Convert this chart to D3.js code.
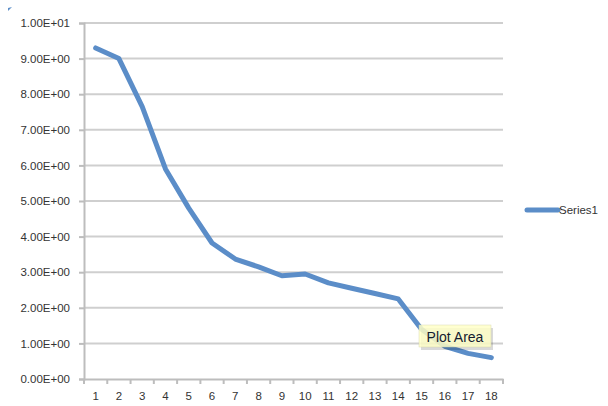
<!DOCTYPE html>
<html>
<head>
<meta charset="utf-8">
<script src="https://cdn.jsdelivr.net/npm/d3@7"></script>
<style>
  html, body { margin: 0; padding: 0; background: #fff; }
  svg { display: block; font-family: "Liberation Sans", Arial, sans-serif; }
</style>
</head>
<body>
<svg id="chart" width="608" height="406"></svg>
<script>
// Categories along the x axis
const categories = ["1","2","3","4","5","6","7","8","9","10","11","12","13","14","15","16","17","18"];
// Series1 values
const series1 = [9.3, 9.0, 7.65, 5.9, 4.8, 3.82, 3.37, 3.15, 2.9, 2.95, 2.7, 2.55, 2.4, 2.25, 1.4, 0.92, 0.72, 0.6];
// Value-axis ticks
const yTicks = [0, 1, 2, 3, 4, 5, 6, 7, 8, 9, 10];
const seriesName = "Series1";

const svg = d3.select("#chart");
const plotLeft = 84, plotRight = 503, plotTop = 23, plotBottom = 379;

const x = d3.scaleBand().domain(categories).range([plotLeft, plotRight]);
const y = d3.scaleLinear().domain([0, 10]).range([plotBottom, plotTop]);

// Scientific-style tick labels, e.g. 9.00E+00, 1.00E+01
const labelFmt = v => v >= 10 ? (v / 10).toFixed(2) + "E+01" : v.toFixed(2) + "E+00";

// Gridlines
svg.append("g")
  .selectAll("line")
  .data(yTicks.filter(d => d > 0))
  .join("line")
  .attr("x1", plotLeft).attr("x2", plotRight)
  .attr("y1", d => y(d)).attr("y2", d => y(d))
  .attr("stroke", "#cfcfcf").attr("stroke-width", 2);

// Value axis
const yAxis = d3.axisLeft(y).tickValues(yTicks).tickFormat(labelFmt).tickSize(5).tickPadding(9);
const gy = svg.append("g").attr("transform", `translate(${plotLeft},0)`).call(yAxis);
gy.select(".domain").attr("stroke", "#bdbdbd").attr("stroke-width", 2);
gy.selectAll(".tick line").attr("stroke", "#bdbdbd").attr("stroke-width", 2);
gy.selectAll(".tick text").attr("fill", "#333").style("font-size", "11.5px");

// Category axis
const xAxis = d3.axisBottom(x).tickSize(0).tickPadding(13);
const gx = svg.append("g").attr("transform", `translate(0,${plotBottom})`).call(xAxis);
gx.select(".domain").attr("stroke", "#bdbdbd").attr("stroke-width", 2);
gx.selectAll(".tick text").attr("fill", "#333").style("font-size", "11.5px");
// Tick marks at category boundaries
const bounds = categories.map(c => x(c)).concat([x(categories[categories.length - 1]) + x.bandwidth()]);
gx.append("g").selectAll("line").data(bounds).join("line")
  .attr("x1", d => d).attr("x2", d => d)
  .attr("y1", 0).attr("y2", 5)
  .attr("stroke", "#bdbdbd").attr("stroke-width", 2);

// Series line
const line = d3.line()
  .x((d, i) => x(categories[i]) + x.bandwidth() / 2)
  .y(d => y(d));
svg.append("path")
  .datum(series1)
  .attr("d", line)
  .attr("fill", "none")
  .attr("stroke", "#5b8dc8")
  .attr("stroke-width", 5)
  .attr("stroke-linejoin", "round")
  .attr("stroke-linecap", "round");

// Legend
const lg = svg.append("g").attr("transform", "translate(527,210)");
lg.append("line").attr("x1", 0).attr("x2", 31).attr("y1", 0).attr("y2", 0)
  .attr("stroke", "#5b8dc8").attr("stroke-width", 5).attr("stroke-linecap", "round");
lg.append("text").attr("x", 32).attr("y", 4).text(seriesName)
  .attr("fill", "#333").style("font-size", "11.5px");

// Hover tooltip over the plot area
const tip = svg.append("g").attr("transform", "translate(419,325)");
tip.append("rect").attr("x", 2).attr("y", 3).attr("width", 72).attr("height", 22)
  .attr("fill", "#000").attr("opacity", 0.15);
tip.append("rect").attr("width", 72).attr("height", 22)
  .attr("fill", "#ffffc8").attr("opacity", 0.85)
  .attr("stroke", "#d8d8a8").attr("stroke-width", 0.5);
tip.append("text").attr("x", 36).attr("y", 16.5).attr("text-anchor", "middle")
  .text("Plot Area").attr("fill", "#141a30").style("font-size", "14px");

// Small selection mark in the corner
svg.append("path").attr("d", "M8,11 L8,8 L12,7 Z").attr("fill", "#5b8dc8");
</script>
</body>
</html>
